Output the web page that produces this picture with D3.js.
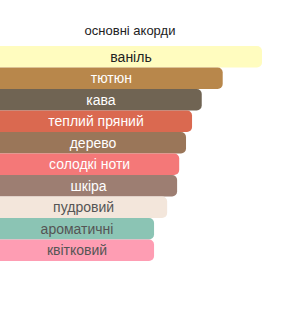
<!DOCTYPE html>
<html>
<head>
    <meta charset="utf-8">
    <script src="https://cdnjs.cloudflare.com/ajax/libs/d3/7.8.5/d3.min.js"></script>
    <style>
        body { margin: 0; background: #fff; font-family: "Liberation Sans", Arial, Helvetica, sans-serif; }
    </style>
</head>
<body>
    <svg width="286" height="311"></svg>
    <script>
        var accords = ["ваніль", "тютюн", "кава", "теплий пряний", "дерево", "солодкі ноти", "шкіра", "пудровий", "ароматичні", "квітковий"];
        var strength = [100, 85, 77, 73.3, 71, 68.4, 67.6, 63.8, 58.8, 58.8];
        var barColors = ["#FFFCBF", "#B8874B", "#706453", "#DA6950", "#9A7659", "#F47878", "#9D7E72", "#F3E6DB", "#8BC4B4", "#FE9DB3"];
        var textColors = ["#222", "#fff", "#fff", "#fff", "#fff", "#fff", "#fff", "#555", "#555", "#555"];

        var svg = d3.select("svg");

        var x = d3.scaleLinear().domain([0, 100]).range([0, 262]);
        var y = d3.scaleBand().domain(accords).range([46, 261]).padding(0);

        svg.append("text")
            .attr("x", 130)
            .attr("y", 35)
            .attr("text-anchor", "middle")
            .attr("font-size", 13)
            .attr("fill", "#222")
            .text("основні акорди");

        var bar = svg.selectAll(".bar")
            .data(accords)
            .enter().append("g")
            .attr("class", "bar");

        bar.append("rect")
            .attr("x", -10)
            .attr("y", function(d) { return y(d); })
            .attr("width", function(d, i) { return x(strength[i]) + 10; })
            .attr("height", y.bandwidth())
            .attr("rx", 5)
            .attr("fill", function(d, i) { return barColors[i]; });

        bar.append("text")
            .attr("x", function(d, i) { return x(strength[i]) / 2; })
            .attr("y", function(d) { return y(d) + y.bandwidth() / 2; })
            .attr("dy", "0.35em")
            .attr("text-anchor", "middle")
            .attr("font-size", 14)
            .attr("fill", function(d, i) { return textColors[i]; })
            .text(function(d) { return d; });
    </script>
</body>
</html>
